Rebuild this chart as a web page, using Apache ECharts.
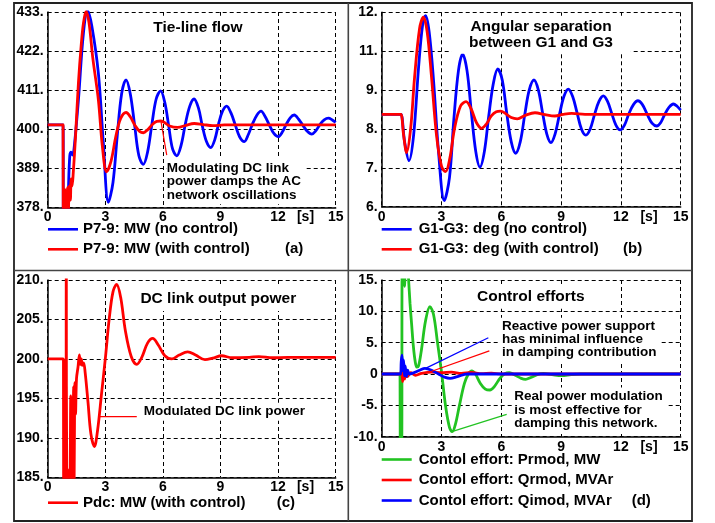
<!DOCTYPE html>
<html><head><meta charset="utf-8">
<script src="https://cdn.jsdelivr.net/npm/echarts@6/dist/echarts.min.js"></script>
<style>html,body{margin:0;padding:0;background:#fff}#c{width:715px;height:523px}</style>
</head><body><div id="c"></div>
<script>
// ---------- data ----------
const xTicks = [0, 3, 6, 9, 12, 15];
const yTicksA = [378, 389, 400, 411, 422, 433];
const yLabelsA = ['378.', '389.', '400.', '411.', '422.', '433.'];
const yTicksB = [6, 7.2, 8.4, 9.6, 10.8, 12];
const yLabelsB = ['6.', '7.', '8.', '9.', '11.', '12.'];
const yTicksC = [185, 190, 195, 200, 205, 210];
const yLabelsC = ['185.', '190.', '195.', '200.', '205.', '210.'];
const yTicksD = [-10, -5, 0, 5, 10, 15];
const yLabelsD = ['-10.', '-5.', '0', '5.', '10.', '15.'];

const namesA = ['P7-9: MW (no control)', 'P7-9: MW (with control)'];
const namesB = ['G1-G3: deg (no control)', 'G1-G3: deg (with control)'];
const namesC = ['Pdc: MW (with control)'];
const namesD = ['Contol effort: Prmod, MW', 'Contol effort: Qrmod, MVAr', 'Contol effort: Qimod, MVAr'];

const tieNoCtrl = [[0,401.2],[0.7,401.2],[0.8,401.2],[0.82,372],[1.02,372],[1.08,383],[1.15,392.5],[1.22,393.5],[1.3,392.7],[1.4,396],[1.6,408.2],[1.86,427],[2.08,433.3],[2.3,429],[2.64,415.7],[2.9,396],[3.16,379.4],[3.4,385],[3.62,398],[3.85,410],[4.08,413.9],[4.3,410],[4.53,401],[4.75,392.5],[4.98,390.1],[5.2,393.5],[5.43,401.5],[5.65,408.5],[5.88,410.8],[6.1,407.5],[6.3,401],[6.5,394.5],[6.72,392.5],[6.95,395.5],[7.17,401.5],[7.4,406.5],[7.62,408.5],[7.85,406],[8.05,401],[8.27,396.5],[8.49,394.8],[8.7,397],[8.9,401.5],[9.1,405],[9.32,406.5],[9.55,404.5],[9.78,401],[10.0,397.8],[10.24,396.5],[10.45,398.5],[10.67,401.5],[10.9,404],[11.11,405.1],[11.33,403.5],[11.56,401],[11.78,398.8],[12.01,397.9],[12.22,399.2],[12.42,401.3],[12.63,403.2],[12.84,404.0],[13.07,402.8],[13.3,401],[13.52,399.4],[13.75,398.6],[13.97,399.6],[14.18,401.3],[14.4,402.6],[14.62,403.1],[14.82,402.6],[15,401.9]];
const tieCtrl = [[0,401.2],[0.7,401.2],[0.8,401.2],[0.81,372],[0.88,372],[0.9,383],[0.93,372],[1.0,372],[1.03,383.5],[1.07,374],[1.12,384],[1.18,380],[1.22,386],[1.27,384],[1.33,387.6],[1.45,398],[1.6,413],[1.75,424],[1.86,429.8],[2.0,433.2],[2.15,430],[2.35,420],[2.64,408.2],[2.85,395],[3.07,388],[3.3,391],[3.55,398],[3.8,403],[4.08,404.7],[4.3,403.5],[4.55,401],[4.8,399.3],[4.98,399],[5.2,399.8],[5.45,401.3],[5.68,402.2],[5.88,402.3],[6.1,401.8],[6.35,400.9],[6.77,400.5],[7.2,401.1],[7.63,401.6],[8.1,401.3],[8.6,401.0],[9.2,401.2],[12,401.2],[15,401.2]];
const angNoCtrl = [[0,8.85],[0.9,8.85],[0.97,8.85],[1.15,8.0],[1.37,7.42],[1.6,8.2],[1.85,10.3],[2.05,11.6],[2.2,11.9],[2.38,11.4],[2.6,9.9],[2.85,7.7],[3.14,6.19],[3.4,6.9],[3.62,8.7],[3.85,10.2],[4.06,10.71],[4.28,10.2],[4.5,8.9],[4.72,7.7],[4.93,7.22],[5.15,7.7],[5.37,8.8],[5.6,9.8],[5.82,10.25],[6.05,9.9],[6.27,8.9],[6.5,8.0],[6.72,7.65],[6.95,8.0],[7.18,8.85],[7.4,9.6],[7.64,9.91],[7.86,9.6],[8.07,8.9],[8.28,8.25],[8.49,7.98],[8.7,8.25],[8.92,8.85],[9.14,9.4],[9.36,9.63],[9.58,9.4],[9.8,8.9],[10.02,8.4],[10.24,8.21],[10.46,8.4],[10.68,8.85],[10.9,9.25],[11.12,9.42],[11.33,9.25],[11.54,8.88],[11.75,8.52],[11.96,8.37],[12.18,8.52],[12.4,8.87],[12.63,9.15],[12.85,9.27],[13.08,9.15],[13.32,8.85],[13.56,8.58],[13.8,8.49],[14.0,8.6],[14.2,8.85],[14.42,9.07],[14.63,9.17],[14.82,9.1],[15,8.98]];
const angCtrl = [[0,8.85],[0.9,8.85],[0.97,8.85],[1.1,8.2],[1.25,7.67],[1.45,8.4],[1.65,10.0],[1.9,11.5],[2.09,11.85],[2.28,11.4],[2.5,10.0],[2.75,8.2],[3.0,7.25],[3.2,7.08],[3.42,7.5],[3.65,8.4],[3.95,9.1],[4.23,9.24],[4.5,9.0],[4.75,8.6],[5.01,8.42],[5.25,8.55],[5.5,8.8],[5.75,8.93],[5.97,8.95],[6.2,8.88],[6.5,8.75],[6.8,8.71],[7.2,8.82],[7.69,8.9],[8.2,8.84],[8.69,8.8],[9.1,8.85],[9.53,8.88],[10.2,8.85],[12,8.85],[15,8.85]];
const pdc = [[0,200],[0.75,200],[0.82,200],[0.83,180],[0.95,180],[0.97,213],[0.99,213],[1.0,180],[1.1,180],[1.12,186],[1.15,180],[1.2,195.3],[1.22,180],[1.28,187],[1.3,180],[1.35,196.5],[1.37,182],[1.4,193.5],[1.42,197],[1.45,193],[1.5,197.5],[1.58,199],[1.65,200.5],[1.7,199.3],[1.75,200.0],[1.8,199.2],[1.87,199.5],[1.95,198.3],[2.1,194.5],[2.25,190.5],[2.43,188.9],[2.6,191],[2.8,195.5],[3.0,200],[3.2,205],[3.4,208.5],[3.59,209.45],[3.8,207.8],[4.05,203.5],[4.35,200.3],[4.64,199.3],[4.9,200.2],[5.2,202],[5.47,202.6],[5.75,201.8],[6.1,200.4],[6.46,200],[6.85,200.5],[7.29,200.9],[7.7,200.5],[8.19,199.9],[8.6,200.1],[9.06,200.4],[9.6,200.15],[10.5,200.2],[11.0,200.3],[11.7,200.15],[12.5,200.2],[13.5,200.2],[15,200.2]];
const prmod = [[0,0],[0.85,0],[0.92,0],[0.93,-12],[1.0,-12],[1.03,17],[1.12,17],[1.15,14],[1.2,17],[1.3,17],[1.35,15],[1.42,11.3],[1.5,8],[1.59,4.36],[1.68,2],[1.76,1.1],[1.85,1.3],[2.0,4],[2.2,8.5],[2.42,10.74],[2.6,9.5],[2.8,5],[3.01,0.1],[3.2,-5],[3.4,-8.5],[3.54,-9.2],[3.7,-8],[3.9,-5],[4.15,-1.5],[4.35,0],[4.52,0.48],[4.7,0],[4.95,-1.5],[5.2,-2.4],[5.43,-2.55],[5.65,-2],[5.95,-0.6],[6.2,0.1],[6.4,0.21],[6.7,-0.2],[7.0,-0.7],[7.22,-0.85],[7.45,-0.6],[7.8,-0.1],[8.11,0.1],[8.55,-0.1],[9.03,-0.27],[9.5,-0.1],[10,0],[12,0],[15,0]];
const qrmod = [[0,0],[0.9,0],[0.95,0],[1.0,0.8],[1.05,-1.2],[1.1,0.5],[1.15,-0.8],[1.2,0.3],[1.3,-0.4],[1.45,0.2],[1.7,-0.2],[2.0,0.1],[2.5,0.3],[3.0,0.2],[3.5,0.3],[4.0,0.1],[4.5,0.25],[5.0,0.05],[5.5,0.15],[6.0,0],[10,0],[15,0]];
const qimod = [[0,0],[0.9,0],[0.95,0],[0.98,2.0],[1.02,3.0],[1.06,0.5],[1.1,2.2],[1.14,-0.3],[1.18,1.3],[1.24,-0.4],[1.3,0.6],[1.4,0],[1.6,0.2],[1.9,0.6],[2.17,0.9],[2.5,0.6],[2.85,0],[3.15,-0.5],[3.43,-0.7],[3.8,-0.4],[4.3,0],[10,0],[15,0]];

// annotation pointer lines
const noteLineA = [[5.9, 402.2], [6.2, 392.7]];
const noteLineC = [[2.64, 192.7], [4.64, 192.7]];
const noteLineDblue = [[2.2, 0.9], [5.35, 5.8]];
const noteLineDred = [[2.3, 0.2], [5.4, 3.7]];
const noteLineDgreen = [[3.6, -9.1], [6.27, -6.44]];

// ---------- chart ----------
const FONT = '"Liberation Sans", Arial, Helvetica, sans-serif';
const BLUE = '#0000ff', RED = '#ff0000', GREEN = '#22c322';
const chart = echarts.init(document.getElementById('c'), null, {renderer: 'canvas'});

const gridLine = {show: true, lineStyle: {color: '#000', width: 1, type: [4, 3]}};
const axisLineStyle = {show: true, onZero: false, lineStyle: {color: '#000', width: 1.5}};
function labelOf(ticks, labels) {
  return function (v) {
    let best = 0;
    for (let i = 1; i < ticks.length; i++) if (Math.abs(ticks[i] - v) < Math.abs(ticks[best] - v)) best = i;
    return labels[best];
  };
}
function xAxis(gi) {
  return {gridIndex: gi, type: 'value', min: xTicks[0], max: xTicks[xTicks.length - 1],
    axisLine: axisLineStyle, splitLine: gridLine,
    axisTick: {show: false, customValues: xTicks},
    axisLabel: {customValues: xTicks, color: '#000', fontFamily: FONT, fontWeight: 'bold', fontSize: 14, margin: 3,
      showMinLabel: true, showMaxLabel: true, hideOverlap: false, formatter: v => String(v)}};
}
function yAxis(gi, ticks, labels) {
  return {gridIndex: gi, type: 'value', min: ticks[0], max: ticks[ticks.length - 1],
    axisLine: axisLineStyle, splitLine: gridLine,
    axisTick: {show: false, customValues: ticks},
    axisLabel: {customValues: ticks, color: '#000', fontFamily: FONT, fontWeight: 'bold', fontSize: 14, margin: 4,
      showMinLabel: true, showMaxLabel: true, hideOverlap: false, formatter: labelOf(ticks, labels)}};
}
function line(name, gi, data, color, width, z) {
  return {name, type: 'line', xAxisIndex: gi, yAxisIndex: gi, data, symbol: 'none', showSymbol: false,
    smooth: 0.35, clip: true, z: z || 2, silent: true, animation: false,
    lineStyle: {color, width: width || 2.8}, itemStyle: {color}};
}
function note(gi, data, color) {
  return {type: 'line', xAxisIndex: gi, yAxisIndex: gi, data, symbol: 'none', showSymbol: false,
    clip: false, z: 3, silent: true, animation: false, lineStyle: {color, width: 1.2}, itemStyle: {color}};
}
function legend(names, left, top, gap, padLeft) {
  return {data: names, orient: 'vertical', left, top, itemGap: gap, itemWidth: 30, itemHeight: 2.6, icon: 'rect',
    padding: 0, selectedMode: false,
    textStyle: {color: '#000', fontFamily: FONT, fontWeight: 'bold', fontSize: 15, lineHeight: 16, padding: [0, 0, 0, padLeft || 0]}};
}
function txt(x, y, text, o) {
  o = o || {};
  const style = {text, fill: '#000', font: 'bold ' + (o.size || 15) + 'px ' + FONT,
    align: o.align || 'left', textAlign: o.align || 'left',
    verticalAlign: 'middle', textVerticalAlign: 'middle'};
  if (o.lh) style.lineHeight = o.lh;
  if (o.bg) { style.backgroundColor = '#fff'; style.padding = o.pad || [2, 4]; }
  return {type: 'text', x, y, z: 10, silent: true, style};
}

const option = {
  backgroundColor: '#fff',
  animation: false,
  grid: [
    {left: 47.7, top: 12, width: 288, height: 195.3, outerBoundsMode: 'none'},
    {left: 381.7, top: 12.3, width: 299, height: 194.4, outerBoundsMode: 'none'},
    {left: 47.7, top: 280, width: 288, height: 197.3, outerBoundsMode: 'none'},
    {left: 381.7, top: 280, width: 299, height: 156.7, outerBoundsMode: 'none'}
  ],
  xAxis: [xAxis(0), xAxis(1), xAxis(2), xAxis(3)],
  yAxis: [yAxis(0, yTicksA, yLabelsA), yAxis(1, yTicksB, yLabelsB), yAxis(2, yTicksC, yLabelsC), yAxis(3, yTicksD, yLabelsD)],
  legend: [
    legend(namesA, 48, 221.3, 4),
    legend(namesB, 381.7, 221.3, 4, 2),
    legend(namesC, 48, 494.7, 4),
    legend(namesD, 381.7, 451.5, 4.5, 2)
  ],
  series: [
    line(namesA[0], 0, tieNoCtrl, BLUE),
    line(namesA[1], 0, tieCtrl, RED),
    note(0, noteLineA, RED),
    line(namesB[0], 1, angNoCtrl, BLUE),
    line(namesB[1], 1, angCtrl, RED),
    line(namesC[0], 2, pdc, RED),
    note(2, noteLineC, RED),
    line(namesD[0], 3, prmod, GREEN),
    line(namesD[1], 3, qrmod, RED),
    line(namesD[2], 3, qimod, BLUE),
    note(3, noteLineDblue, BLUE),
    note(3, noteLineDred, RED),
    note(3, noteLineDgreen, GREEN)
  ],
  graphic: [
    {type: 'rect', z: 20, silent: true, shape: {x: 14, y: 3, width: 678, height: 518}, style: {fill: 'none', stroke: '#222', lineWidth: 1.8}},
    {type: 'line', z: 20, silent: true, shape: {x1: 348.3, y1: 3, x2: 348.3, y2: 521}, style: {stroke: '#444', lineWidth: 1.6}},
    {type: 'line', z: 20, silent: true, shape: {x1: 14, y1: 270.5, x2: 692, y2: 270.5}, style: {stroke: '#444', lineWidth: 1.6}},
    txt(198, 27.7, 'Tie-line flow', {align: 'center', size: 15.5, bg: 1, pad: [4, 10]}),
    txt(541, 34.7, 'Angular separation\nbetween G1 and G3', {align: 'center', size: 15.5, lh: 16, bg: 1, pad: [3, 18]}),
    txt(218.3, 299, 'DC link output power', {align: 'center', size: 15.5, bg: 1, pad: [4, 8]}),
    txt(530.8, 296.7, 'Control efforts', {align: 'center', size: 15.5, bg: 1, pad: [4, 8]}),
    txt(166.7, 181.7, 'Modulating DC link\npower damps the AC\nnetwork oscillations', {size: 13.5, lh: 13.4, bg: 1, pad: [3, 4, 2, 0]}),
    txt(141.7, 411.7, 'Modulated DC link power', {size: 13.5, bg: 1, pad: [2, 4, 2, 2]}),
    txt(500, 339.7, 'Reactive power support\nhas minimal influence\nin damping contribution', {size: 13.5, lh: 13, bg: 1, pad: [3, 4, 2, 2]}),
    txt(512.3, 410, 'Real power modulation\nis most effective for\ndamping this network.', {size: 13.5, lh: 13.3, bg: 1, pad: [3, 4, 2, 2]}),
    txt(305.5, 216.7, '[s]', {align: 'center', size: 14}),
    txt(649, 216.7, '[s]', {align: 'center', size: 14}),
    txt(305.5, 487, '[s]', {align: 'center', size: 14}),
    txt(649, 446.7, '[s]', {align: 'center', size: 14}),
    txt(285, 249.3, '(a)', {size: 15}),
    txt(623, 249.3, '(b)', {size: 15}),
    txt(276.7, 502.7, '(c)', {size: 15}),
    txt(631.7, 500.5, '(d)', {size: 15})
  ]
};
chart.setOption(option);
</script>
</body></html>
